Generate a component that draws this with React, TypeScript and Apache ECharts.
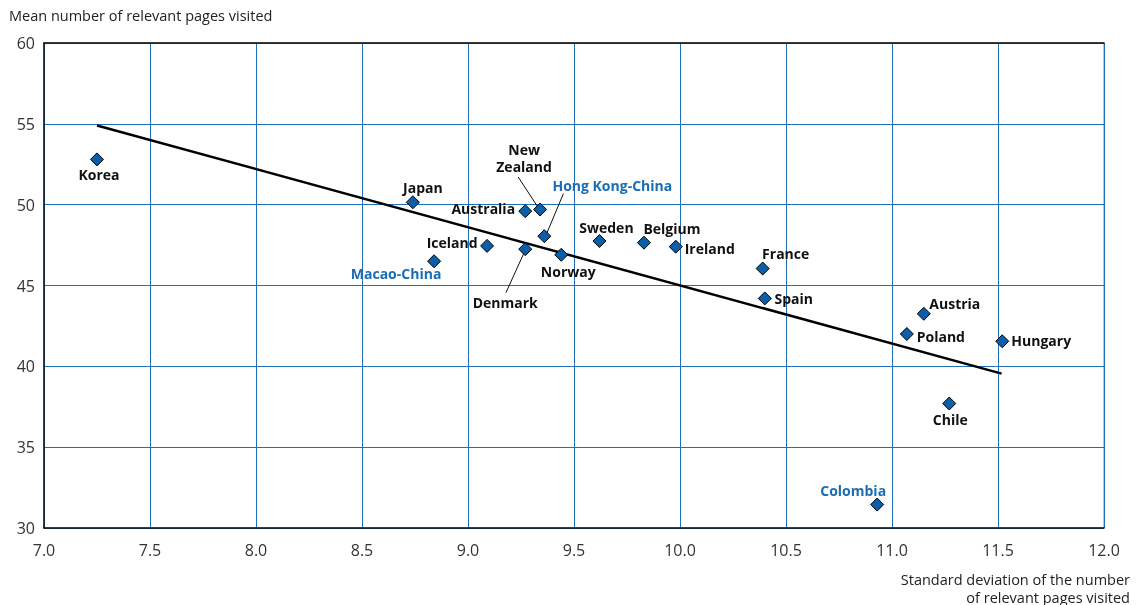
import React, { useEffect, useRef } from "react";
import * as echarts from "echarts";

const countries = ["Korea", "Japan", "Macao-China", "Australia", "New\nZealand", "Hong Kong-China", "Iceland", "Denmark", "Norway", "Sweden", "Belgium", "Ireland", "France", "Spain", "Austria", "Poland", "Hungary", "Chile", "Colombia"];
const stdDev = [7.25, 8.74, 8.84, 9.27, 9.34, 9.36, 9.09, 9.27, 9.44, 9.62, 9.83, 9.98, 10.39, 10.40, 11.15, 11.07, 11.52, 11.27, 10.93];
const meanPages = [52.8, 50.15, 46.5, 49.6, 49.7, 48.05, 47.45, 47.25, 46.9, 47.75, 47.65, 47.4, 46.05, 44.2, 43.25, 42.0, 41.55, 37.7, 31.45];
const partner = [false, false, true, false, false, true, false, false, false, false, false, false, false, false, false, false, false, false, true];
const trendX = [7.25, 11.517];
const trendY = [54.9, 39.55];
const leaderNZ = [[9.237, 51.71], [9.327, 49.9]];
const leaderHK = [[9.45, 50.68], [9.371, 48.21]];
const leaderDK = [[9.264, 47.01], [9.179, 44.56]];
const xTicks = { min: 7, max: 12, interval: 0.5 };
const yTicks = { min: 30, max: 60, interval: 5 };

// label offsets (layout only)
const labelOffsets: Record<string, [number, number]> = {
  "Korea": [2, 15],
  "Japan": [10, -15],
  "Macao-China": [-38, 12],
  "Australia": [-42, -3],
  "New\nZealand": [-16, -52],
  "Hong Kong-China": [68, -51],
  "Iceland": [-35, -3],
  "Denmark": [-20, 53],
  "Norway": [7, 17],
  "Sweden": [7, -14],
  "Belgium": [28, -14],
  "Ireland": [34, 2],
  "France": [23, -15],
  "Spain": [29, 0],
  "Austria": [31, -10],
  "Poland": [34, 2],
  "Hungary": [39, -1],
  "Chile": [1, 16],
  "Colombia": [-24, -14],
};

const FONT = "'Open Sans', Lato, sans-serif";
const BLUE = "#1a6db4";
const GRID_BLUE = "#1f6fb8";

export default function App() {
  const ref = useRef<HTMLDivElement>(null);
  useEffect(() => {
    const chart = echarts.init(ref.current!, null, { renderer: "svg" });
    const pts = countries.map((c, i) => ({
      value: [stdDev[i], meanPages[i]],
      name: c,
      label: {
        show: true,
        position: "inside",
        offset: labelOffsets[c],
        formatter: c,
        color: partner[i] ? BLUE : "#111",
        fontFamily: FONT,
        fontWeight: "bold",
        fontSize: 14,
        lineHeight: 17,
        align: "center",
        verticalAlign: "middle",
      },
    }));
    const leader = (d: number[][]) => ({
      type: "line",
      data: d,
      symbol: "none",
      lineStyle: { color: "#111", width: 1 },
      silent: true,
      z: 1,
    });
    chart.setOption({
      animation: false,
      grid: { left: 44, top: 43, right: 33, bottom: 77, show: true, borderColor: "#888", borderWidth: 1 },
      xAxis: [
        {
          type: "value",
          min: xTicks.min,
          max: xTicks.max,
          interval: xTicks.interval,
          axisLine: { show: true, lineStyle: { color: "#111", width: 1.5 } },
          axisTick: { show: false },
          axisLabel: {
            formatter: (v: number) => v.toFixed(1),
            color: "#333",
            fontFamily: FONT,
            fontSize: 16,
            margin: 14,
          },
          splitLine: { show: true, lineStyle: { color: GRID_BLUE, width: 1 } },
        },
        {
          type: "value",
          position: "top",
          min: xTicks.min,
          max: xTicks.max,
          axisLine: { show: true, onZero: false, lineStyle: { color: "#111", width: 1.5 } },
          axisTick: { show: false },
          axisLabel: { show: false },
          splitLine: { show: false },
        },
      ],
      yAxis: {
        type: "value",
        min: yTicks.min,
        max: yTicks.max,
        interval: yTicks.interval,
        axisLine: { show: true, lineStyle: { color: "#111", width: 1.5 } },
        axisTick: { show: false },
        axisLabel: { color: "#333", fontFamily: FONT, fontSize: 16, margin: 9 },
        splitLine: { show: true, lineStyle: { color: GRID_BLUE, width: 1 } },
      },
      graphic: [
        {
          type: "text",
          x: 9,
          y: 8,
          style: { text: "Mean number of relevant pages visited", fill: "#222", font: `14.5px ${FONT}` },
        },
        {
          type: "text",
          x: 1130,
          y: 570,
          style: {
            text: "Standard deviation of the number\nof relevant pages visited",
            fill: "#222",
            font: `14.5px ${FONT}`,
            align: "right",
            lineHeight: 18,
          },
        },
      ],
      series: [
        leader(leaderNZ),
        leader(leaderHK),
        leader(leaderDK),
        {
          type: "line",
          data: trendX.map((x, i) => [x, trendY[i]]),
          symbol: "none",
          lineStyle: { color: "#000", width: 2.5 },
          z: 2,
        },
        {
          type: "scatter",
          data: pts,
          symbol: "diamond",
          symbolSize: 13,
          itemStyle: { color: "#0b5ea8", borderColor: "#000", borderWidth: 1, opacity: 1 },
          z: 3,
        },
      ],
    });
    return () => chart.dispose();
  }, []);
  return <div ref={ref} style={{ position: "fixed", left: 0, top: 0, width: 1137, height: 605 }} />;
}
